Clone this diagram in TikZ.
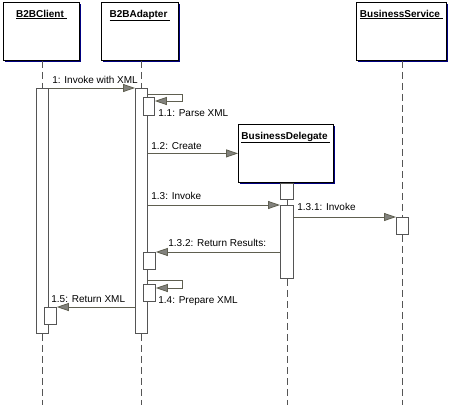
\documentclass[tikz,border=0pt]{standalone}
\usepackage{fontspec}
\setmainfont{Liberation Sans}
\usetikzlibrary{arrows.meta}
\usetikzlibrary{shadows}

\definecolor{shadownavy}{RGB}{0,0,128}
\definecolor{msggray}{RGB}{95,95,80}
\definecolor{tipgray}{RGB}{130,130,125}
\definecolor{linegray}{RGB}{85,85,85}

\tikzset{
  objbox/.style={draw=black, fill=white, inner sep=0, anchor=north west, minimum height=58,
    drop shadow={fill=shadownavy, opacity=1, shadow xshift=2pt, shadow yshift=-2pt}},
  objtitle/.style={font=\bfseries\fontsize{10}{12}\selectfont, inner sep=0, anchor=north, yshift=-7.5pt},
  bar/.style={draw=linegray, fill=white, inner sep=0, anchor=north west, minimum width=12},
  life/.style={draw=linegray, dash pattern=on 7pt off 4pt},
  msg/.style={draw=msggray, -{Triangle[length=12pt,width=8pt,fill=tipgray]}},
  msglabel/.style={font=\fontsize{10}{12}\selectfont, inner sep=0, anchor=base west},
}

\begin{document}
\begin{tikzpicture}[x=1pt, y=-1pt, line width=0.8pt]
\useasboundingbox (0,0) rectangle (450,405);
\coordinate (bottom) at (0,405);

% objects
\node[objbox, minimum width=76, label={[objtitle]north:\underline{B2BClient\ }}] (client) at (3,2) {};
\node[objbox, minimum width=77, label={[objtitle]north:\underline{B2BAdapter\ }}] (adapter) at (101,2) {};
\node[objbox, minimum width=90, label={[objtitle]north:\underline{BusinessService\ }}] (service) at (356,2) {};
\node[objbox, minimum width=95, label={[objtitle]north:\underline{BusinessDelegate\ }}] (delegate) at (238,124) {};

% activation bars
\node[bar, minimum height=245] (cAct) at (36,88) {};
\node[bar, minimum height=245] (aAct) at (135,88) {};
\node[bar, minimum width=11, minimum height=18] (n1) at (143,97) {};
\node[bar, minimum width=13, minimum height=16] (dTop) at (280,183) {};
\node[bar, minimum width=13, minimum height=73] (dAct) at (280,205) {};
\node[bar, minimum height=17] (sAct) at (396,217) {};
\node[bar, minimum height=17] (n2) at (143,252) {};
\node[bar, minimum height=17] (n3) at (143,284) {};
\node[bar, minimum height=17] (n5) at (44,307) {};

% lifelines
\draw[life] (cAct.north |- client.south) -- (cAct.north);
\draw[life] (cAct.south) -- (cAct.south |- bottom);
\draw[life] (aAct.north |- adapter.south) -- (aAct.north);
\draw[life] (aAct.south) -- (aAct.south |- bottom);
\draw[draw=linegray] (dTop.south) -- (dAct.north);
\draw[life] (dAct.south) -- (dAct.south |- bottom);
\draw[life] (sAct.north |- service.south) -- (sAct.north);
\draw[life] (sAct.south) -- (sAct.south |- bottom);

% 1: invoke
\draw[msg] (cAct.north east) -- (aAct.north west);
\node[msglabel] (m1) at (52,83) {1: Invoke with XML};

% 1.1: self call
\coordinate (l1a) at (182,94);
\coordinate (l1b) at (182,101);
\draw[msg] (aAct.east |- l1a) -- (l1a) -- (l1b) -- (n1.east |- l1b);
\node[msglabel] (m11) at (158,116) {1.1: Parse XML};

% 1.2: create
\draw[msg] (aAct.east |- delegate.west) -- (delegate.west);
\node[msglabel] (m12) at (151,149) {1.2: Create};

% 1.3: invoke
\draw[msg] (aAct.east |- dAct.north) -- (dAct.north west);
\node[msglabel] (m13) at (151,199) {1.3: Invoke};

% 1.3.1: invoke
\draw[msg] (dAct.east |- sAct.north) -- (sAct.north west);
\node[msglabel] (m131) at (297,210) {1.3.1: Invoke};

% 1.3.2: return
\draw[msg] (dAct.west |- n2.north) -- (n2.north east);
\node[msglabel] (m132) at (168,246) {1.3.2: Return Results:};

% 1.4: self call
\coordinate (l4a) at (182,280);
\coordinate (l4b) at (182,288);
\draw[msg] (aAct.east |- l4a) -- (l4a) -- (l4b) -- (n3.east |- l4b);
\node[msglabel] (m14) at (158,303) {1.4: Prepare XML};

% 1.5: return
\draw[msg] (aAct.west |- n5.north) -- (n5.north east);
\node[msglabel] (m15) at (51,302) {1.5: Return XML};

\end{tikzpicture}
\end{document}
